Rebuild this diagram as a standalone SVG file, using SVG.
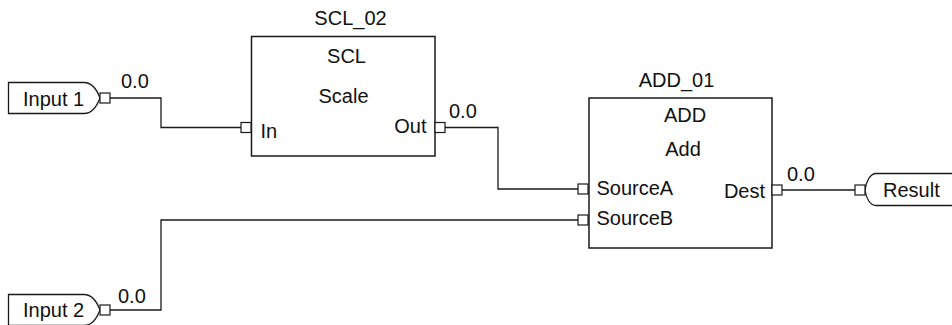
<svg xmlns="http://www.w3.org/2000/svg" width="952" height="325" viewBox="0 0 952 325">
<style>
text{font-family:"Liberation Sans",Arial,sans-serif;font-size:20px;fill:#111}
.m{text-anchor:middle}
.e{text-anchor:end}
.box{fill:#fff;stroke:#1a1a1a;stroke-width:1.5}
.tag{fill:#fff;stroke:#1a1a1a;stroke-width:1.3}
.port{fill:#fff;stroke:#1a1a1a;stroke-width:1.2}
.wire{fill:none;stroke:#1a1a1a;stroke-width:1.3}
</style>
<rect width="952" height="325" fill="#fff"/>
<g id="connectors">
<path class="wire" d="M110,98 H161 V127.5 H241"/>
<path class="wire" d="M445,127.5 H498 V189 H578"/>
<path class="wire" d="M110,310 H161 V220 H578"/>
<path class="wire" d="M782,190 H855"/>
</g>
<g id="input1">
<path class="tag" d="M8.5,82.5 H84 C92,82.5 97,90 100,98 C97,106 92,113.5 84,113.5 H8.5 Z"/>
<rect class="port" x="100" y="93" width="10" height="10"/>
<text x="23" y="106">Input 1</text>
<text x="121" y="88">0.0</text>
</g>
<g id="input2">
<path class="tag" d="M8.5,294.5 H84 C92,294.5 97,302 100,310 C97,318 92,325.5 84,325.5 H8.5 Z"/>
<rect class="port" x="100" y="305" width="10" height="10"/>
<text x="23" y="317">Input 2</text>
<text x="118" y="303">0.0</text>
</g>
<g id="SCL_02">
<text class="m" x="350.5" y="25">SCL_02</text>
<rect class="box" x="251.5" y="36.5" width="183.5" height="119.5"/>
<text class="m" x="346.5" y="62.5">SCL</text>
<text class="m" x="343.5" y="103">Scale</text>
<rect class="port" x="241" y="122.5" width="10" height="10"/>
<text x="260.5" y="138">In</text>
<rect class="port" x="435" y="122.5" width="10" height="10"/>
<text class="e" x="426.5" y="132.5">Out</text>
<text x="449" y="118">0.0</text>
</g>
<g id="ADD_01">
<text class="m" x="676.5" y="86.5">ADD_01</text>
<rect class="box" x="589" y="98" width="183" height="150"/>
<text class="m" x="685" y="122">ADD</text>
<text class="m" x="683" y="155.5">Add</text>
<rect class="port" x="578" y="184" width="10" height="10"/>
<text x="596.5" y="195">SourceA</text>
<rect class="port" x="578" y="215" width="10" height="10"/>
<text x="596.5" y="225">SourceB</text>
<rect class="port" x="772" y="185" width="10" height="10"/>
<text class="e" x="765" y="197.5">Dest</text>
<text x="787" y="181">0.0</text>
</g>
<g id="result">
<path class="tag" d="M958,173.5 H876 C870,173.5 866,182 865,190 C866,198 870,205.5 876,205.5 H958"/>
<rect class="port" x="855" y="185" width="10" height="10"/>
<text x="883" y="197">Result</text>
</g>
</svg>
